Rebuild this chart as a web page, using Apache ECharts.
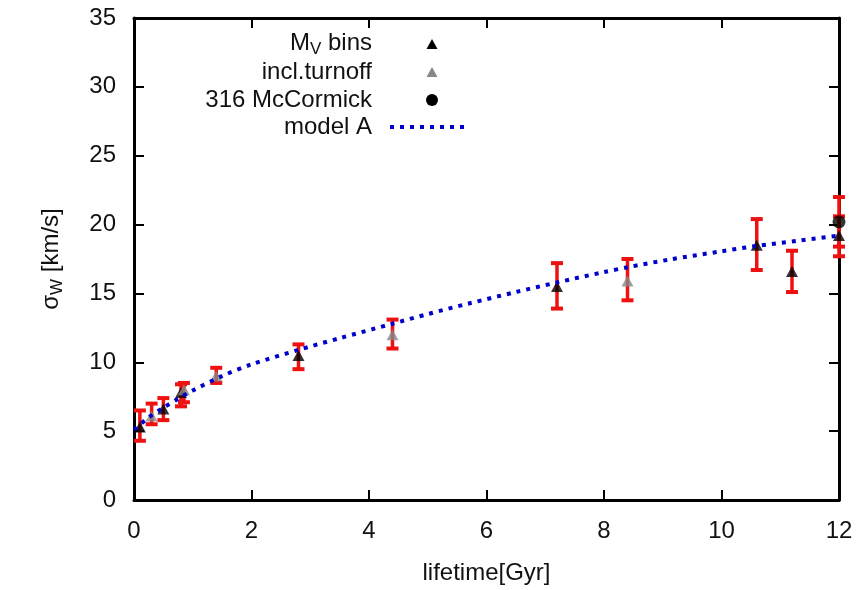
<!DOCTYPE html>
<html>
<head>
<meta charset="utf-8">
<script src="https://cdn.jsdelivr.net/npm/echarts@6/dist/echarts.min.js"></script>
<style>
html,body{margin:0;padding:0;background:#fff;}
#chart{width:861px;height:590px;}
</style>
</head>
<body>
<div id="chart"></div>
<script>
// ---- data ----
var xTicks = [0, 2, 4, 6, 8, 10, 12];
var yTicks = [0, 5, 10, 15, 20, 25, 30, 35];

// M_V bins (black triangles)
var mvX  = [0.1, 0.5, 0.8, 2.8, 7.2, 10.6, 11.2, 12.0];
var mvY  = [5.3, 6.6, 7.8, 10.5, 15.5, 18.5, 16.6, 19.2];
var mvLo = [4.3, 5.8, 6.8, 9.5, 13.9, 16.7, 15.1, 17.7];
var mvHi = [6.5, 7.4, 8.4, 11.3, 17.2, 20.4, 18.1, 20.6];

// incl.turnoff (grey triangles)
var toX  = [0.3, 0.85, 1.4, 4.4, 8.4];
var toY  = [6.1, 8.0, 9.0, 12.0, 15.9];
var toLo = [5.5, 7.1, 8.5, 11.0, 14.5];
var toHi = [7.0, 8.5, 9.6, 13.1, 17.5];

// 316 McCormick (black circle)
var mcX  = [12.0];
var mcY  = [20.2];
var mcLo = [18.4];
var mcHi = [22.0];

// model A curve
var modelX = [0, 0.25, 0.5, 0.75, 1.0, 1.5, 2.0, 2.8, 3.5, 4.4, 5.0, 5.7, 6.5, 7.2, 8.0, 8.4, 9.1, 10.0, 10.6, 11.3, 12.0];
var modelY = [5.1, 6.0, 6.7, 7.35, 7.95, 9.0, 9.85, 10.9, 11.75, 12.8, 13.5, 14.27, 15.1, 15.8, 16.55, 16.9, 17.45, 18.06, 18.45, 18.83, 19.2];

// ---- helpers ----
function pts(xs, ys){ return xs.map(function(x,i){ return [x, ys[i]]; }); }
function bars(xs, lo, hi){ return xs.map(function(x,i){ return [x, lo[i], hi[i]]; }); }

var errData = bars(mvX, mvLo, mvHi).concat(bars(toX, toLo, toHi)).concat(bars(mcX, mcLo, mcHi));

function renderErr(params, api){
  var x = api.value(0), lo = api.value(1), hi = api.value(2);
  var a = api.coord([x, lo]), b = api.coord([x, hi]);
  var hw = 6;
  var st = {stroke:'#ee1111', lineWidth:3.5};
  var cap = {stroke:'#ee1111', lineWidth:4};
  return {type:'group', children:[
    {type:'line', shape:{x1:a[0], y1:a[1], x2:b[0], y2:b[1]}, style:st},
    {type:'line', shape:{x1:a[0]-hw, y1:a[1], x2:a[0]+hw, y2:a[1]}, style:cap},
    {type:'line', shape:{x1:b[0]-hw, y1:b[1], x2:b[0]+hw, y2:b[1]}, style:cap}
  ]};
}

var FONT = 'Liberation Sans, Arial, Helvetica, sans-serif';
var FS = 24;

var chart = echarts.init(document.getElementById('chart'));

var axisLineStyle = {color:'#000', width:3};
var tickStyle = {show:true, inside:true, length:10, lineStyle:{color:'#000', width:2}};

var option = {
  animation:false,
  backgroundColor:'#fff',
  grid:{left:134, right:22, top:18, bottom:87, containLabel:false},
  xAxis:[{
    type:'value', min:xTicks[0], max:xTicks[xTicks.length-1], interval:2,
    axisLine:{show:true, onZero:false, lineStyle:axisLineStyle},
    axisTick:tickStyle,
    splitLine:{show:false},
    axisLabel:{color:'#111', fontSize:FS, fontFamily:FONT, margin:19},
    name:'lifetime[Gyr]', nameLocation:'middle', nameGap:61,
    nameTextStyle:{color:'#111', fontSize:FS, fontFamily:FONT}
  },{
    type:'value', position:'top', min:xTicks[0], max:xTicks[xTicks.length-1], interval:2,
    axisLine:{show:true, onZero:false, lineStyle:axisLineStyle},
    axisTick:tickStyle,
    splitLine:{show:false}, axisLabel:{show:false}
  }],
  yAxis:[{
    type:'value', min:yTicks[0], max:yTicks[yTicks.length-1], interval:5,
    axisLine:{show:true, onZero:false, lineStyle:axisLineStyle},
    axisTick:tickStyle,
    splitLine:{show:false},
    axisLabel:{color:'#111', fontSize:FS, fontFamily:FONT, margin:18},
    name:'{a|σ}{s|W}{a| [km/s]}', nameLocation:'middle', nameGap:68,
    nameTextStyle:{color:'#111', fontFamily:FONT,
      rich:{a:{fontSize:FS, fontFamily:FONT, color:'#111'},
            s:{fontSize:17, fontFamily:FONT, color:'#111', padding:[12,0,0,0]}}}
  },{
    type:'value', position:'right', min:yTicks[0], max:yTicks[yTicks.length-1], interval:5,
    axisLine:{show:true, onZero:false, lineStyle:axisLineStyle},
    axisTick:tickStyle,
    splitLine:{show:false}, axisLabel:{show:false}
  }],
  series:[
    {type:'custom', name:'err', renderItem:renderErr, data:errData, clip:false, z:2,
     encode:{x:0, y:[1,2]}},
    {type:'scatter', name:'M_V bins', data:pts(mvX, mvY), symbol:'triangle', symbolSize:[12,11],
     itemStyle:{color:'#000'}, clip:false, z:3},
    {type:'scatter', name:'incl.turnoff', data:pts(toX, toY), symbol:'triangle', symbolSize:[12,11],
     itemStyle:{color:'#888'}, clip:false, z:3},
    {type:'scatter', name:'316 McCormick', data:pts(mcX, mcY), symbol:'circle', symbolSize:13,
     itemStyle:{color:'#000'}, clip:false, z:3},
    {type:'line', name:'model A', data:pts(modelX, modelY), smooth:0.3, showSymbol:false, symbol:'none',
     lineStyle:{color:'#0000cc', width:4, type:[4,6], cap:'butt'}, clip:false, z:4}
  ],
  graphic:[
    {type:'text', right:861-372, top:31, style:{text:'{a|M}{s|V}{a| bins}', fontFamily:FONT, fill:'#111',
      rich:{a:{fontSize:FS, fontFamily:FONT, fill:'#111'}, s:{fontSize:17, fontFamily:FONT, fill:'#111', padding:[12,0,0,0]}}}},
    {type:'text', right:861-372, top:60, style:{text:'incl.turnoff', font:FS+'px '+FONT, fill:'#111'}},
    {type:'text', right:861-372, top:88, style:{text:'316 McCormick', font:FS+'px '+FONT, fill:'#111'}},
    {type:'text', right:861-372, top:115, style:{text:'model A', font:FS+'px '+FONT, fill:'#111'}},
    {type:'polygon', shape:{points:[[432,39],[426.5,49],[437.5,49]]}, style:{fill:'#000'}},
    {type:'polygon', shape:{points:[[432,67],[426.5,77],[437.5,77]]}, style:{fill:'#888'}},
    {type:'circle', shape:{cx:432, cy:100, r:6}, style:{fill:'#000'}},
    {type:'line', shape:{x1:390, y1:127, x2:468, y2:127}, style:{stroke:'#0000cc', lineWidth:4, lineDash:[4,6]}}
  ]
};
chart.setOption(option);
</script>
</body>
</html>
